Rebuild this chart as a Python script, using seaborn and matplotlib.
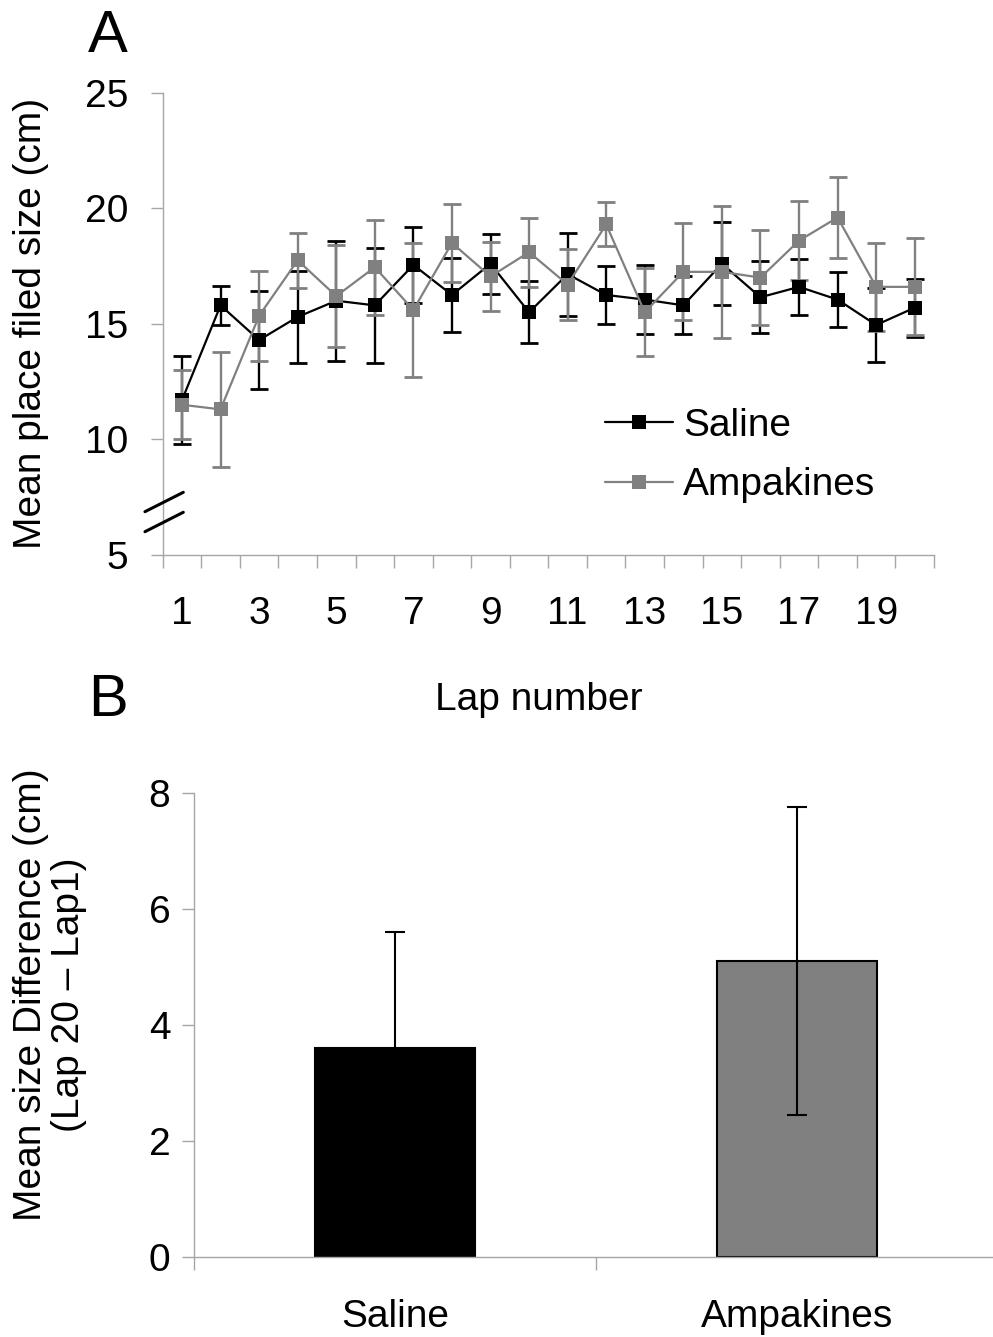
import matplotlib
matplotlib.use("Agg")
import matplotlib.pyplot as plt
import seaborn as sns
import pandas as pd
import numpy as np

# ---------------- data ----------------
laps = list(range(1, 21))
saline = [11.7, 15.8, 14.3, 15.3, 16.0, 15.8, 17.55, 16.25, 17.6, 15.5,
          17.15, 16.25, 16.05, 15.8, 17.6, 16.15, 16.6, 16.05, 14.95, 15.7]
saline_err = [1.9, 0.85, 2.1, 2.0, 2.6, 2.5, 1.65, 1.6, 1.3, 1.35,
              1.8, 1.25, 1.5, 1.25, 1.8, 1.55, 1.2, 1.2, 1.6, 1.25]
ampakines = [11.5, 11.3, 15.35, 17.75, 16.2, 17.45, 15.6, 18.5, 17.05, 18.1,
             16.7, 19.3, 15.5, 17.25, 17.25, 17.0, 18.6, 19.6, 16.6, 16.6]
ampakines_err = [1.5, 2.5, 1.95, 1.2, 2.2, 2.05, 2.9, 1.7, 1.5, 1.5,
                 1.55, 0.95, 1.9, 2.1, 2.85, 2.05, 1.7, 1.75, 1.9, 2.1]
lap_tick_labels = ["1", "3", "5", "7", "9", "11", "13", "15", "17", "19"]
yticks_a = [5, 10, 15, 20, 25]

groups = ["Saline", "Ampakines"]
diff_mean = [3.6, 5.1]
diff_err = [2.0, 2.66]
yticks_b = [0, 2, 4, 6, 8]

BLACK = "#000000"
GRAY = "#808080"
SPINE = "#a6a6a6"

sns.set_theme(style="white")
plt.rcParams["font.family"] = ["Liberation Sans", "DejaVu Sans"]
plt.rcParams["text.color"] = "black"

W, H = 993, 1337
fig = plt.figure(figsize=(W / 100, H / 100), dpi=100)

def fx(px):
    return px / W

def fy(py):
    return 1 - py / H

# ---------------- panel A ----------------
axA_left, axA_right, axA_top, axA_bot = 162.7, 934.0, 92.7, 555.0
axA = fig.add_axes([fx(axA_left), fy(axA_bot), (axA_right - axA_left) / W, (axA_bot - axA_top) / H])

dfA = pd.DataFrame({"lap": laps + laps,
                    "size": saline + ampakines,
                    "group": ["Saline"] * 20 + ["Ampakines"] * 20})

for name, vals, errs, col in [("Saline", saline, saline_err, BLACK),
                              ("Ampakines", ampakines, ampakines_err, GRAY)]:
    axA.errorbar(laps, vals, yerr=errs, fmt="none", ecolor=col, elinewidth=1.7,
                 capsize=6.5, capthick=2.0, zorder=2)
    sns.lineplot(data=dfA[dfA["group"] == name], x="lap", y="size", ax=axA,
                 color=col, marker="s", markersize=10, markeredgewidth=0,
                 linewidth=1.6, label=name, zorder=3)

axA.set_xlim(0.5, 20.5)
axA.set_ylim(5, 25)
axA.set_yticks(yticks_a)
axA.set_yticklabels([str(v) for v in yticks_a])
axA.set_xticks(np.arange(0.5, 21, 1))
axA.set_xticklabels([])
axA.set_xticks(np.arange(1, 21, 2), minor=True)
axA.set_xticklabels(lap_tick_labels, minor=True)
axA.tick_params(axis="x", which="major", direction="out", length=9, width=1, color=SPINE, bottom=True)
axA.tick_params(axis="x", which="minor", length=0, pad=29.5, labelsize=28, labelcolor="black")
axA.tick_params(axis="y", direction="out", length=9, width=1, color=SPINE, left=True,
                labelsize=28, pad=16, labelcolor="black")
axA.set_xlabel("")
axA.set_ylabel("")
for s in ["top", "right"]:
    axA.spines[s].set_visible(False)
for s in ["left", "bottom"]:
    axA.spines[s].set_color(SPINE)
    axA.spines[s].set_linewidth(1)

leg = axA.legend(loc="center left", bbox_to_anchor=((605 - axA_left) / (axA_right - axA_left),
                                                   (axA_bot - 455.5) / (axA_bot - axA_top)),
                 frameon=False, fontsize=28, handlelength=1.75, handletextpad=0.26,
                 labelspacing=0.6, borderpad=0, borderaxespad=0)
for t in leg.get_texts():
    t.set_color("black")

# axis break marks
for y0, y1 in [(0.0937, 0.1356), (0.0504, 0.0924)]:
    axA.plot([-0.023, 0.0267], [y0, y1], transform=axA.transAxes, color="black",
             linewidth=2.2, clip_on=False, zorder=5)

fig.text(fx(31), fy(323), "Mean place filed size (cm)", rotation=90, ha="center",
         va="center", fontsize=28)
fig.text(fx(539), fy(710), "Lap number", ha="center", va="baseline", fontsize=28)
fig.text(fx(88), fy(52), "A", ha="left", va="baseline", fontsize=43)
fig.text(fx(88), fy(716), "B", ha="left", va="baseline", fontsize=43)

# ---------------- panel B ----------------
axB_left, axB_top, axB_bot = 194.0, 793.0, 1257.0
axB_width = 804.0
axB = fig.add_axes([fx(axB_left), fy(axB_bot), axB_width / W, (axB_bot - axB_top) / H])

dfB = pd.DataFrame({"group": groups, "diff": diff_mean})
sns.barplot(data=dfB, x="group", y="diff", hue="group", palette=[BLACK, GRAY],
            width=0.4, edgecolor="black", linewidth=1.5, legend=False, ax=axB,
            errorbar=None, zorder=2)
axB.errorbar(range(len(groups)), diff_mean, yerr=diff_err, fmt="none", ecolor="black",
             elinewidth=1.5, capsize=7, capthick=1.5, zorder=3)

axB.set_xlim(-0.5, 1.5)
axB.set_ylim(0, 8)
axB.set_yticks(yticks_b)
axB.set_yticklabels([str(v) for v in yticks_b])
axB.set_xticks([-0.5, 0.5, 1.5])
axB.set_xticklabels([])
axB.set_xticks([0, 1], minor=True)
axB.set_xticklabels(groups, minor=True)
axB.tick_params(axis="x", which="major", direction="out", length=9, width=1, color=SPINE, bottom=True)
axB.tick_params(axis="x", which="minor", length=0, pad=30, labelsize=28, labelcolor="black")
axB.tick_params(axis="y", direction="out", length=9, width=1, color=SPINE, left=True,
                labelsize=28, pad=8, labelcolor="black")
axB.set_xlabel("")
axB.set_ylabel("")
for s in ["top", "right"]:
    axB.spines[s].set_visible(False)
for s in ["left", "bottom"]:
    axB.spines[s].set_color(SPINE)
    axB.spines[s].set_linewidth(1)

fig.text(fx(50), fy(995), "Mean size Difference (cm)\n(Lap 20 \u2013 Lap1)", rotation=90,
         ha="center", va="center", fontsize=28, multialignment="center", linespacing=1.1)

fig.savefig("out.png", dpi=100, facecolor="white")
